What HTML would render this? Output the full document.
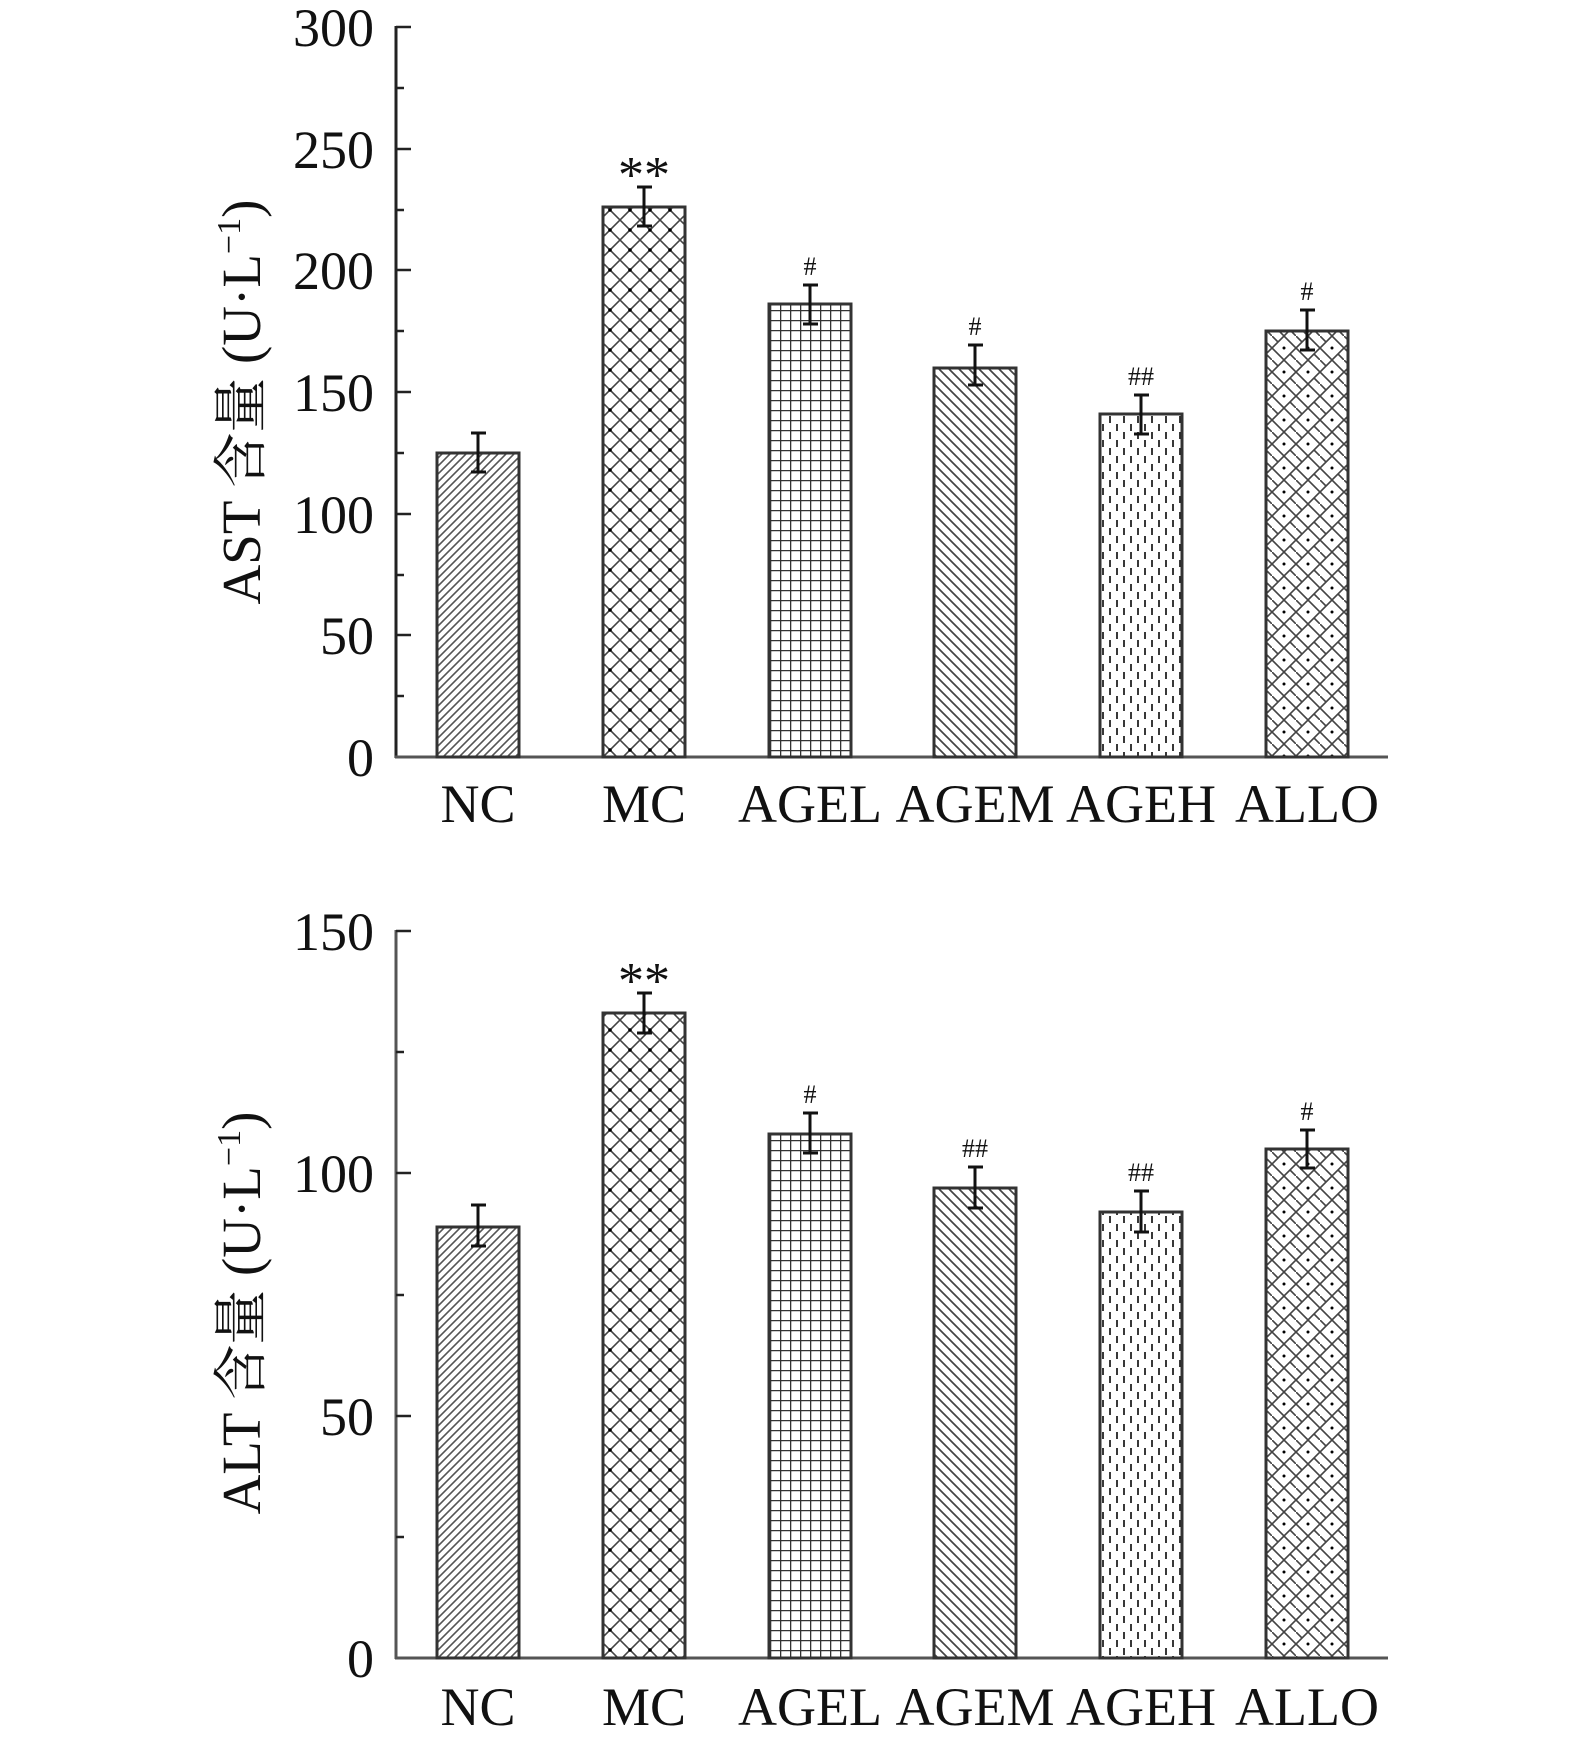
<!DOCTYPE html>
<html><head><meta charset="utf-8"><style>
html,body{margin:0;padding:0;background:#fff;}
svg text{font-family:"Liberation Serif","Noto Serif CJK SC",serif;fill:#111;}
</style></head><body>
<svg width="1575" height="1743" viewBox="0 0 1575 1743" xmlns="http://www.w3.org/2000/svg">
<defs>
<pattern id="pNC" width="8" height="8" patternUnits="userSpaceOnUse"><path d="M-2,10 L10,-2 M-2,2 L2,-2 M6,10 L10,6" stroke="#555" stroke-width="1.6"/></pattern>
<pattern id="pMC" width="20" height="20" patternUnits="userSpaceOnUse"><path d="M0,0 L20,20 M20,0 L0,20" stroke="#444" stroke-width="1.6"/><circle cx="10" cy="10" r="1.8" fill="#000"/></pattern>
<pattern id="pAGEL" width="10" height="10" patternUnits="userSpaceOnUse"><path d="M0,0.5 H10 M0.5,0 V10" stroke="#333" stroke-width="1.6"/></pattern>
<pattern id="pAGEM" width="10" height="10" patternUnits="userSpaceOnUse"><path d="M-2,-2 L12,12 M-2,8 L2,12 M8,-2 L12,2" stroke="#444" stroke-width="1.7"/></pattern>
<pattern id="pAGEH" width="14" height="16" patternUnits="userSpaceOnUse"><path d="M4,0 V7 M11,8 V15" stroke="#222" stroke-width="1.8"/></pattern>
<pattern id="pALLO" width="24" height="24" patternUnits="userSpaceOnUse"><path d="M0,12 L12,0 M12,24 L24,12 M0,12 L12,24 M12,0 L24,12 M0,0 L6,6 M18,18 L24,24" stroke="#444" stroke-width="1.6"/><circle cx="12" cy="12" r="1.5" fill="#000"/></pattern>
</defs>

<g>
<line x1="396" y1="26" x2="396" y2="758" stroke="#222" stroke-width="3"/>
<line x1="395" y1="757" x2="1388" y2="757" stroke="#555" stroke-width="3"/>
<g stroke="#222" stroke-width="2.5">
<line x1="396" y1="27" x2="411" y2="27"/><line x1="396" y1="149" x2="411" y2="149"/>
<line x1="396" y1="270" x2="411" y2="270"/><line x1="396" y1="392" x2="411" y2="392"/>
<line x1="396" y1="514" x2="411" y2="514"/><line x1="396" y1="635" x2="411" y2="635"/>
<line x1="396" y1="88" x2="404" y2="88"/><line x1="396" y1="210" x2="404" y2="210"/>
<line x1="396" y1="331" x2="404" y2="331"/><line x1="396" y1="453" x2="404" y2="453"/>
<line x1="396" y1="575" x2="404" y2="575"/><line x1="396" y1="696" x2="404" y2="696"/>
</g>
<g font-size="54" text-anchor="end">
<text x="374" y="46">300</text><text x="374" y="168">250</text><text x="374" y="289">200</text>
<text x="374" y="411">150</text><text x="374" y="533">100</text><text x="374" y="654">50</text><text x="374" y="776">0</text>
</g>
<text transform="translate(260,402) rotate(-90)" font-size="55" text-anchor="middle">AST 含量 (U·L<tspan font-size="34" dy="-20">−1</tspan><tspan dy="20">)</tspan></text>
<g stroke="#333" stroke-width="3">
<rect x="437" y="453" width="82" height="304" fill="url(#pNC)"/>
<rect x="603" y="207" width="82" height="550" fill="url(#pMC)"/>
<rect x="769" y="304" width="82" height="453" fill="url(#pAGEL)"/>
<rect x="934" y="368" width="82" height="389" fill="url(#pAGEM)"/>
<rect x="1100" y="414" width="82" height="343" fill="url(#pAGEH)"/>
<rect x="1266" y="331" width="82" height="426" fill="url(#pALLO)"/>
</g>
<g stroke="#111" stroke-width="3">
<path d="M478,433 V472 M471,433 H486 M471,472 H486"/>
<path d="M644,187 V226 M637,187 H652 M637,226 H652"/>
<path d="M810,285 V324 M803,285 H818 M803,324 H818"/>
<path d="M975,345 V385 M968,345 H983 M968,385 H983"/>
<path d="M1141,395 V434 M1134,395 H1149 M1134,434 H1149"/>
<path d="M1307,310 V350 M1300,310 H1315 M1300,350 H1315"/>
</g>
<text x="644" y="192" font-size="52" text-anchor="middle">**</text>
<g font-size="26" text-anchor="middle">
<text x="810" y="275">#</text><text x="975" y="335">#</text><text x="1141" y="385">##</text><text x="1307" y="300">#</text>
</g>
<g font-size="54" text-anchor="middle">
<text x="478" y="822">NC</text><text x="644" y="822">MC</text><text x="810" y="822">AGEL</text>
<text x="975" y="822">AGEM</text><text x="1141" y="822">AGEH</text><text x="1307" y="822">ALLO</text>
</g>
</g>

<g>
<line x1="396" y1="930" x2="396" y2="1659" stroke="#555" stroke-width="3"/>
<line x1="395" y1="1658" x2="1388" y2="1658" stroke="#555" stroke-width="3"/>
<g stroke="#222" stroke-width="2.5">
<line x1="396" y1="931" x2="411" y2="931"/><line x1="396" y1="1173" x2="411" y2="1173"/>
<line x1="396" y1="1416" x2="411" y2="1416"/>
<line x1="396" y1="1052" x2="404" y2="1052"/><line x1="396" y1="1295" x2="404" y2="1295"/>
<line x1="396" y1="1537" x2="404" y2="1537"/>
</g>
<g font-size="54" text-anchor="end">
<text x="374" y="950">150</text><text x="374" y="1192">100</text><text x="374" y="1435">50</text><text x="374" y="1677">0</text>
</g>
<text transform="translate(260,1313) rotate(-90)" font-size="55" text-anchor="middle">ALT 含量 (U·L<tspan font-size="34" dy="-20">−1</tspan><tspan dy="20">)</tspan></text>
<g stroke="#333" stroke-width="3">
<rect x="437" y="1227" width="82" height="431" fill="url(#pNC)"/>
<rect x="603" y="1013" width="82" height="645" fill="url(#pMC)"/>
<rect x="769" y="1134" width="82" height="524" fill="url(#pAGEL)"/>
<rect x="934" y="1188" width="82" height="470" fill="url(#pAGEM)"/>
<rect x="1100" y="1212" width="82" height="446" fill="url(#pAGEH)"/>
<rect x="1266" y="1149" width="82" height="509" fill="url(#pALLO)"/>
</g>
<g stroke="#111" stroke-width="3">
<path d="M478,1205 V1246 M471,1205 H486 M471,1246 H486"/>
<path d="M644,993 V1033 M637,993 H652 M637,1033 H652"/>
<path d="M810,1113 V1153 M803,1113 H818 M803,1153 H818"/>
<path d="M975,1167 V1208 M968,1167 H983 M968,1208 H983"/>
<path d="M1141,1191 V1232 M1134,1191 H1149 M1134,1232 H1149"/>
<path d="M1307,1130 V1168 M1300,1130 H1315 M1300,1168 H1315"/>
</g>
<text x="644" y="998" font-size="52" text-anchor="middle">**</text>
<g font-size="26" text-anchor="middle">
<text x="810" y="1103">#</text><text x="975" y="1157">##</text><text x="1141" y="1181">##</text><text x="1307" y="1120">#</text>
</g>
<g font-size="54" text-anchor="middle">
<text x="478" y="1725">NC</text><text x="644" y="1725">MC</text><text x="810" y="1725">AGEL</text>
<text x="975" y="1725">AGEM</text><text x="1141" y="1725">AGEH</text><text x="1307" y="1725">ALLO</text>
</g>
</g>
</svg>
</body></html>
